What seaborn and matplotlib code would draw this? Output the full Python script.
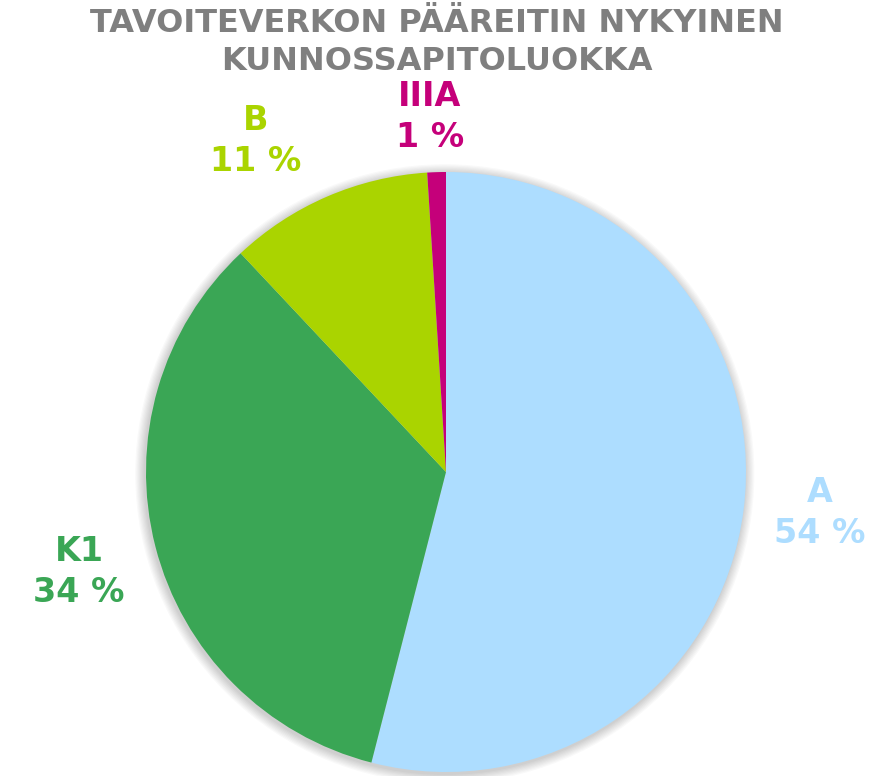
import matplotlib
matplotlib.use("Agg")
import matplotlib.pyplot as plt
import seaborn as sns
from matplotlib.patches import Circle

sns.set_theme(style="white")
plt.rcParams["font.family"] = ["DejaVu Sans"]

# Maintenance classes of the target network main routes (share, %)
categories = ["A", "K1", "B", "IIIA"]
shares = [54, 34, 11, 1]
colors = ["#ADDDFF", "#3AA655", "#AAD400", "#C5007A"]
title_lines = ["TAVOITEVERKON PÄÄREITIN NYKYINEN", "KUNNOSSAPITOLUOKKA"]

W, H = 890, 776
CX, CY, R = 446, 472, 300  # pie centre and radius in pixels

fig = plt.figure(figsize=(W / 100, H / 100), dpi=100)
ax = fig.add_axes([0, 0, 1, 1])

# soft shadow around the pie
for i in range(8):
    ax.add_patch(Circle((-0.004, -0.006), 1.0 + 0.004 * (i + 1), color="#000000",
                        alpha=0.022, lw=0, zorder=0))

ax.pie(shares, colors=colors, startangle=90, counterclock=False, radius=1.0,
       wedgeprops=dict(linewidth=0), center=(0, 0), frame=True)
ax.set_xlim(-CX / R, (W - CX) / R)
ax.set_ylim((CY - H) / R, CY / R)
ax.set_aspect("auto")
ax.axis("off")

# label positions (pixels) for each category
label_px = [(820, 513), (79, 572), (256, 141), (430, 117)]
for cat, val, col, (px, py) in zip(categories, shares, colors, label_px):
    ax.text((px - CX) / R, (CY - py) / R, f"{cat}\n{val} %", color=col,
            fontsize=24, fontweight="bold", ha="center", va="center",
            linespacing=1.3)

for line, y in zip(title_lines, (24, 61)):
    fig.text(437 / W, 1 - y / H, line, color="#7F7F7F", fontsize=23,
             fontweight="bold", ha="center", va="center")

fig.savefig("out.png", dpi=100)
